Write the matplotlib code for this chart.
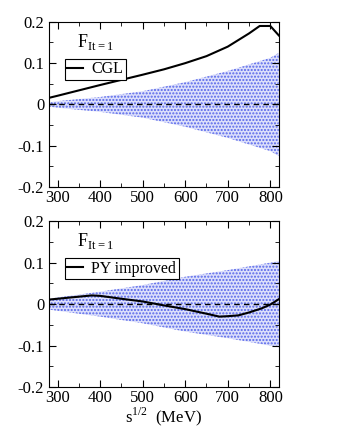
import numpy as np
import matplotlib
matplotlib.use('Agg')
import matplotlib.pyplot as plt
from matplotlib.ticker import MultipleLocator

# band half-widths (error bands)
band_x = [280, 300, 400, 500, 600, 700, 800, 820]
band_top = [0.005, 0.008, 0.018, 0.032, 0.054, 0.081, 0.113, 0.125]
band_bot = [0.013, 0.016, 0.030, 0.046, 0.066, 0.082, 0.100, 0.104]

cgl_x = [280, 300, 400, 500, 550, 600, 650, 700, 750, 775, 800, 820]
cgl_y = [0.016, 0.021, 0.047, 0.072, 0.085, 0.100, 0.117, 0.140, 0.172, 0.190, 0.190, 0.167]

py_x = [280, 300, 350, 380, 400, 450, 500, 550, 600, 650, 680, 700, 725, 750, 780, 800, 820]
py_y = [0.011, 0.013, 0.018, 0.021, 0.020, 0.013, 0.0065, -0.003, -0.012, -0.023, -0.030,
        -0.029, -0.027, -0.020, -0.010, -0.001, 0.012]

plt.rcParams['font.family'] = 'Liberation Serif'
plt.rcParams['mathtext.fontset'] = 'custom'
plt.rcParams['mathtext.rm'] = 'Liberation Serif'

fig = plt.figure(figsize=(3.38, 4.37), dpi=100)
ax1 = fig.add_axes([0.145, 0.572, 0.68, 0.378])
ax2 = fig.add_axes([0.145, 0.114, 0.68, 0.380])

panels = [(ax1, band_top, cgl_x, cgl_y, 'CGL'),
          (ax2, band_bot, py_x, py_y, 'PY improved')]

for ax, hw, lx, ly, lab in panels:
    hw = np.array(hw)
    ax.fill_between(band_x, -hw, hw, facecolor='#dcdffb', edgecolor='#5565ea',
                    hatch='.....', linewidth=0)
    ax.axhline(0, color='black', ls='--', lw=1, dashes=(4, 3))
    ax.plot(lx, ly, color='black', lw=1.5, label=lab)
    ax.set_xlim(280, 820)
    ax.set_ylim(-0.2, 0.2)
    ax.xaxis.set_major_locator(MultipleLocator(100))
    ax.xaxis.set_minor_locator(MultipleLocator(50))
    ax.yaxis.set_major_locator(MultipleLocator(0.1))
    ax.yaxis.set_minor_locator(MultipleLocator(0.05))
    ax.set_yticks([-0.2, -0.1, 0, 0.1, 0.2])
    ax.set_yticklabels(['-0.2', '-0.1', '0', '0.1', '0.2'])
    ax.tick_params(which='both', direction='in', top=True, right=True, labelsize=12)
    ax.tick_params(which='major', length=5)
    ax.tick_params(which='minor', length=3)
    ax.tick_params(axis='x', pad=2)
    ax.text(0.12, 0.85, r'F$_{\mathrm{It{=}1}}$', transform=ax.transAxes, fontsize=13,
            va='baseline')
    leg = ax.legend(loc='upper left', bbox_to_anchor=(0.07, 0.775), fancybox=False,
                    edgecolor='black', framealpha=1, handlelength=1.0,
                    handletextpad=0.5, borderpad=0.15, fontsize=11.5,
                    borderaxespad=0)
    leg.get_frame().set_linewidth(0.8)

ax2.set_xlabel(r'$\mathrm{s}^{1/2}$  (MeV)', fontsize=12, labelpad=0)

plt.savefig('out.png', dpi=100)
